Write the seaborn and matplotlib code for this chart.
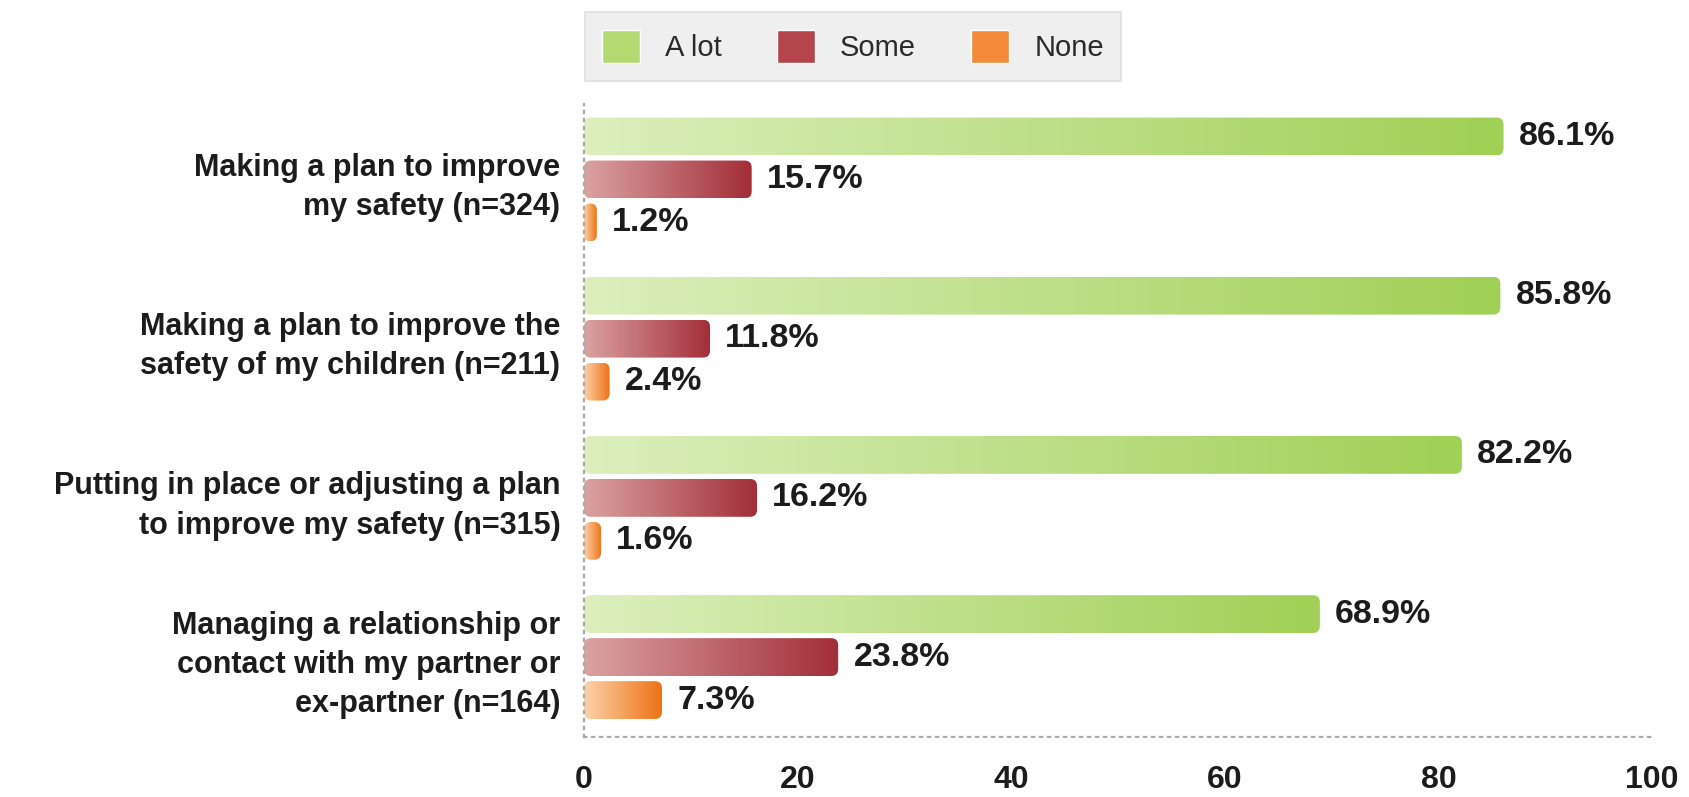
import numpy as np
import pandas as pd
import matplotlib
matplotlib.use("Agg")
import matplotlib.pyplot as plt
from matplotlib.colors import LinearSegmentedColormap
from matplotlib.patches import FancyBboxPatch
import seaborn as sns

# ---- data -------------------------------------------------------------
categories = [
    "Making a plan to improve\nmy safety (n=324)",
    "Making a plan to improve the\nsafety of my children (n=211)",
    "Putting in place or adjusting a plan\nto improve my safety (n=315)",
    "Managing a relationship or\ncontact with my partner or\nex-partner (n=164)",
]
responses = ["A lot", "Some", "None"]
a_lot = [86.1, 85.8, 82.2, 68.9]
some = [15.7, 11.8, 16.2, 23.8]
none = [1.2, 2.4, 1.6, 7.3]
x_ticks = [0, 20, 40, 60, 80, 100]

series = {"A lot": a_lot, "Some": some, "None": none}
df = pd.concat(
    [pd.DataFrame({"category": categories, "response": r, "value": v})
     for r, v in series.items()],
    ignore_index=True,
)

# ---- colours (gradient light -> dark per bar) ---------------------------
light = {"A lot": "#dcefbd", "Some": "#dba2a2", "None": "#fdd2aa"}
dark = {"A lot": "#a0d055", "Some": "#a22e38", "None": "#ee7215"}
solid = {"A lot": "#b2da70", "Some": "#b5454c", "None": "#f28a3a"}

sns.set_theme(style="white")
plt.rcParams["font.family"] = ["Liberation Sans", "DejaVu Sans"]
text_col = "#1c1c1c"

W, H = 1690, 797
fig = plt.figure(figsize=(W / 100, H / 100), dpi=100)
ax = fig.add_axes([584 / W, 1 - 737 / H, 1068 / W, 633 / H])

sns.barplot(
    data=df, y="category", x="value", hue="response",
    order=categories, hue_order=responses, orient="h",
    palette=solid, width=0.81, gap=0.12, saturation=1,
    errorbar=None, ax=ax,
)

ax.set_xlim(0, 100)
ax.set_ylim(3.502, -0.474)

# pixel scale of the data axes, used for rounded bar ends
p0 = ax.transData.transform((0, 0))
p1 = ax.transData.transform((1, 1))
px_x = abs(p1[0] - p0[0])
px_y = abs(p1[1] - p0[1])
asp = px_x / px_y

grad = np.linspace(0, 1, 256).reshape(1, -1)
for container, resp in zip(ax.containers, responses):
    cmap = LinearSegmentedColormap.from_list(resp, [light[resp], dark[resp]])
    for bar in container:
        x0, y0 = bar.get_x(), bar.get_y()
        w, h = bar.get_width(), bar.get_height()
        r_px = min(7.0, w * px_x / 2, h * px_y / 2)
        box = FancyBboxPatch(
            (x0, y0), w, h,
            boxstyle=f"round,pad=0,rounding_size={r_px / px_x}",
            mutation_aspect=asp, transform=ax.transData,
            facecolor="none", edgecolor="none",
        )
        ax.add_patch(box)
        ax.imshow(grad, cmap=cmap, aspect="auto", interpolation="bicubic",
                  extent=(x0, x0 + w, y0 + h, y0), clip_path=box, zorder=2)
        bar.set_visible(False)
    ax.bar_label(container, labels=[f"{v:.1f}%" for v in series[resp]],
                 padding=11, fontsize=24.5, fontweight="bold", color=text_col)

ax.set_xlim(0, 100)
ax.set_ylim(3.502, -0.474)

# ---- axes styling -----------------------------------------------------
for side in ("top", "right"):
    ax.spines[side].set_visible(False)
for side in ("left", "bottom"):
    ax.spines[side].set_color("#a8a8a8")
    ax.spines[side].set_linewidth(1.6)
    ax.spines[side].set_linestyle((0, (1, 2.6)))

ax.set_xticks(x_ticks)
ax.set_xticklabels([str(t) for t in x_ticks])
ax.tick_params(axis="x", direction="in", length=6, width=1, color="#c0c0c0",
               labelsize=23, pad=20, labelcolor=text_col)
for t in ax.get_xticklabels():
    t.set_fontweight("bold")
ax.tick_params(axis="y", length=0, pad=17, labelsize=22, labelcolor=text_col)
for t in ax.get_yticklabels():
    t.set_fontweight("bold")
    t.set_linespacing(1.4)
ax.set_xlabel("")
ax.set_ylabel("")
ax.grid(False)

# ---- legend -----------------------------------------------------------
sns.move_legend(
    ax, "upper left",
    bbox_to_anchor=(585 / W, 1 - 12 / H), bbox_transform=fig.transFigure,
    ncol=3, title=None, frameon=True, fancybox=False,
    fontsize=21, handlelength=1.3, handleheight=1.4,
    handletextpad=0.85, columnspacing=1.9, borderpad=0.6,
    borderaxespad=0,
)
leg = ax.get_legend()
leg.get_frame().set_facecolor("#ebebeb")
leg.get_frame().set_edgecolor("#dedede")
leg.get_frame().set_linewidth(1.5)
for txt in leg.get_texts():
    txt.set_color("#2a2a2a")

fig.savefig("out.png", dpi=100, facecolor="white")
